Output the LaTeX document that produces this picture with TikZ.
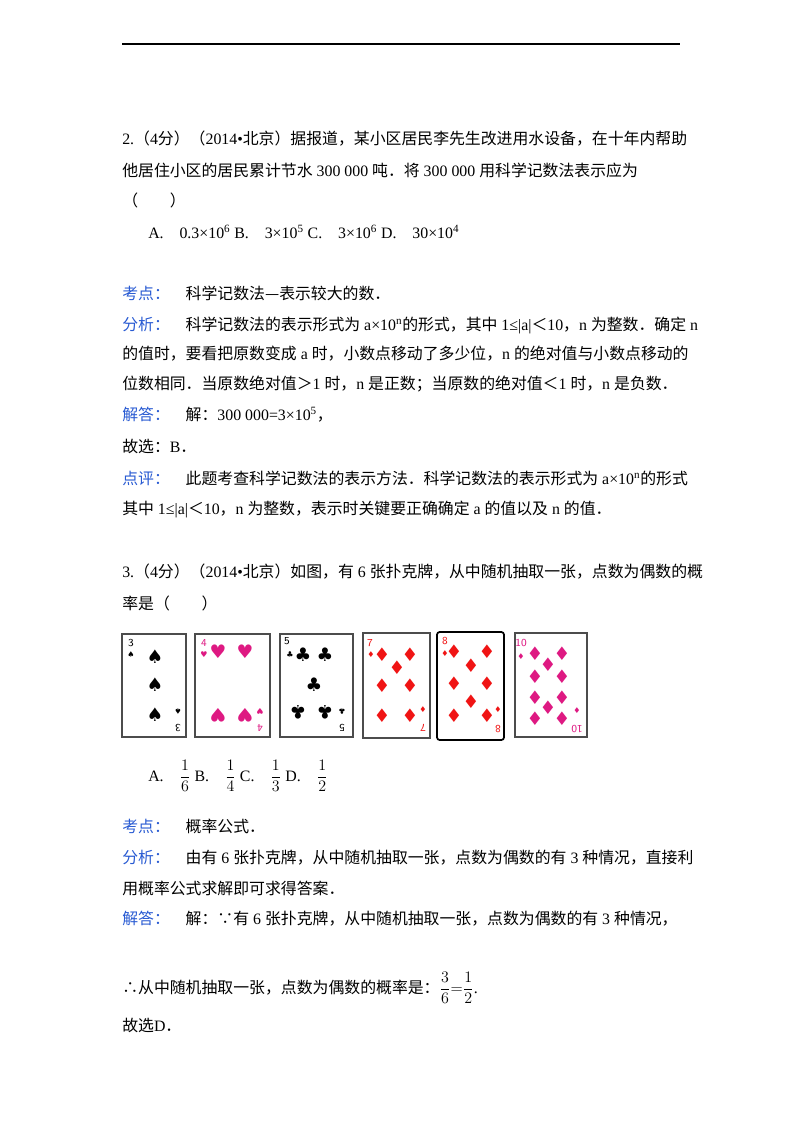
\documentclass[tikz,border=0pt]{standalone}
\usepackage{fontspec}
\setmainfont{Liberation Serif}
\newfontfamily\cjk{Noto Sans CJK SC}
\newfontfamily\sym{DejaVu Sans}
\definecolor{lbl}{RGB}{40,90,210}
\definecolor{pinkc}{RGB}{222,25,130}
\definecolor{redc}{RGB}{240,20,20}
\newcommand{\Cj}[1]{{\cjk #1}}
\newcommand{\Lb}[1]{{\color{lbl}\cjk #1}}
\begin{document}
\begin{tikzpicture}[x=0.75pt,y=-0.75pt,
  txt/.style={anchor=base west,inner sep=0pt,font=\fontsize{11.9pt}{14pt}\selectfont},
  card/.style={draw=black!70,line width=0.8pt,fill=white},
  pip/.style={inner sep=0pt,font=\sym\fontsize{14pt}{14pt}\selectfont},
  sm/.style={inner sep=0pt,font=\sym\fontsize{6pt}{6pt}\selectfont},
  idx/.style={inner sep=0pt,font=\sffamily\fontsize{8pt}{8pt}\selectfont}]
\useasboundingbox (0,0) rectangle (800,1132);
\draw[line width=0.8pt] (122,44) -- (680,44);
\node[txt] (l1) at (122,144) {2.\Cj{（}4\Cj{分）（}2014•\Cj{北京）据报道，某小区居民李先生改进用水设备，在十年内帮助}};
\node[txt] (l2) at (122,176) {\Cj{他居住小区的居民累计节水} 300 000 \Cj{吨．将} 300 000 \Cj{用科学记数法表示应为}};
\node[txt] (l3) at (122,206) {\Cj{（　　）}};
\node[txt] (l4) at (148,238) {A.\quad 0.3×10\textsuperscript{6} B.\quad 3×10\textsuperscript{5} C.\quad 3×10\textsuperscript{6} D.\quad 30×10\textsuperscript{4}};
\node[txt] (l5) at (122,299) {\Lb{考点：}\quad\Cj{科学记数法—表示较大的数．}};
\node[txt] (l6) at (122,330) {\Lb{分析：}\quad\Cj{科学记数法的表示形式为} a×10\textsuperscript{n}\Cj{的形式，其中} 1≤|a|\Cj{＜}10\Cj{，}n \Cj{为整数．确定} n};
\node[txt] (l7) at (122,359) {\Cj{的值时，要看把原数变成} a \Cj{时，小数点移动了多少位，}n \Cj{的绝对值与小数点移动的}};
\node[txt] (l8) at (122,389) {\Cj{位数相同．当原数绝对值＞}1 \Cj{时，}n \Cj{是正数；当原数的绝对值＜}1 \Cj{时，}n \Cj{是负数．}};
\node[txt] (l9) at (122,420) {\Lb{解答：}\quad\Cj{解：}300 000=3×10\textsuperscript{5}\Cj{，}};
\node[txt] (l10) at (122,452) {\Cj{故选：}B\Cj{．}};
\node[txt] (l11) at (122,484) {\Lb{点评：}\quad\Cj{此题考查科学记数法的表示方法．科学记数法的表示形式为} a×10\textsuperscript{n}\Cj{的形式}};
\node[txt] (l12) at (122,514) {\Cj{其中} 1≤|a|\Cj{＜}10\Cj{，}n \Cj{为整数，表示时关键要正确确定} a \Cj{的值以及} n \Cj{的值．}};
\node[txt] (l13) at (122,577) {3.\Cj{（}4\Cj{分）（}2014•\Cj{北京）如图，有} 6 \Cj{张扑克牌，从中随机抽取一张，点数为偶数的概}};
\node[txt] (l14) at (122,609) {\Cj{率是（　　）}};
% cards
\draw[card] (122,634) rectangle (186,737);
\node[idx] at (131,643) {3}; \node[sm] at (131,655) {♠};
\foreach \y in {657,685,715} \node[pip] at (155,\y) {♠};
\node[sm,rotate=180] at (178,711) {♠}; \node[idx,rotate=180] at (178,728) {3};
\draw[card] (195,634) rectangle (270,737);
\begin{scope}[pinkc]
\node[idx] at (204,643) {4}; \node[sm] at (204,655) {♥};
\foreach \p in {(218,652),(245,652)} \node[pip] at \p {♥};
\foreach \p in {(218,715),(245,715)} \node[pip,rotate=180] at \p {♥};
\node[sm,rotate=180] at (260,711) {♥}; \node[idx,rotate=180] at (260,728) {4};
\end{scope}
\draw[card] (280,634) rectangle (353,737);
\node[idx] at (287,641) {5}; \node[sm] at (290,655) {♣};
\foreach \p in {(303,655),(325,655),(314,685)} \node[pip] at \p {♣};
\foreach \p in {(298,712),(325,712)} \node[pip,rotate=180] at \p {♣};
\node[sm,rotate=180] at (342,711) {♣}; \node[idx,rotate=180] at (342,728) {5};
\draw[card] (363,633) rectangle (430,738);
\begin{scope}[redc]
\node[idx] at (370,643) {7}; \node[sm] at (371,655) {♦};
\foreach \p in {(382,655),(410,655),(397,668),(382,686),(410,686),(382,716),(410,716)} \node[pip] at \p {♦};
\node[sm] at (423,710) {♦}; \node[idx,rotate=180] at (423,728) {7};
\end{scope}
\draw[card,draw=black,line width=1.3pt,rounded corners=2pt] (437,632) rectangle (504,740);
\begin{scope}[redc]
\node[idx] at (445,641) {8}; \node[sm] at (445,654) {♦};
\foreach \p in {(454,652),(487,652),(471,666),(454,684),(487,684),(471,702),(454,716),(487,716)} \node[pip] at \p {♦};
\node[sm] at (498,710) {♦}; \node[idx,rotate=180] at (498,729) {8};
\end{scope}
\draw[card] (515,633) rectangle (587,737);
\begin{scope}[pinkc]
\node[idx] at (521,643) {10}; \node[sm] at (521,657) {♦};
\foreach \p in {(535,654),(562,654),(548,665),(535,677),(562,677),(535,698),(562,698),(548,708),(535,719),(562,719)} \node[pip] at \p {♦};
\node[sm] at (577,711) {♦}; \node[idx,rotate=180] at (577,729) {10};
\end{scope}
\node[txt] (o) at (148,781) {A.\quad $\displaystyle\frac{1}{6}$ B.\quad $\displaystyle\frac{1}{4}$ C.\quad $\displaystyle\frac{1}{3}$ D.\quad $\displaystyle\frac{1}{2}$};
\node[txt] (m1) at (122,832) {\Lb{考点：}\quad\Cj{概率公式．}};
\node[txt] (m2) at (122,863) {\Lb{分析：}\quad\Cj{由有} 6 \Cj{张扑克牌，从中随机抽取一张，点数为偶数的有} 3 \Cj{种情况，直接利}};
\node[txt] (m3) at (122,894) {\Cj{用概率公式求解即可求得答案．}};
\node[txt] (m4) at (122,924) {\Lb{解答：}\quad\Cj{解：∵有} 6 \Cj{张扑克牌，从中随机抽取一张，点数为偶数的有} 3 \Cj{种情况，}};
\node[txt] (m5) at (122,993) {\Cj{∴从中随机抽取一张，点数为偶数的概率是：}$\displaystyle\frac{3}{6}{=}\frac{1}{2}$.};
\node[txt] (m6) at (122,1031) {\Cj{故选}D\Cj{．}};
\end{tikzpicture}
\end{document}
